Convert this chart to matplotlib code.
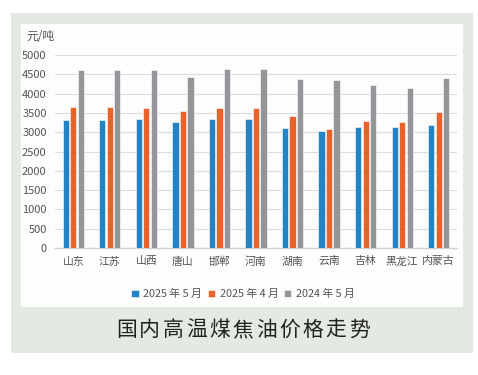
import matplotlib.pyplot as plt
import numpy as np
from matplotlib.patches import Rectangle

plt.rcParams['font.family'] = ['Noto Sans CJK SC', 'DejaVu Sans']

cities = ["山东", "江苏", "山西", "唐山", "邯郸", "河南", "湖南", "云南", "吉林", "黑龙江", "内蒙古"]
may_2025 = [3310, 3310, 3330, 3270, 3330, 3330, 3110, 3020, 3130, 3130, 3180]
apr_2025 = [3650, 3650, 3630, 3540, 3630, 3630, 3420, 3080, 3300, 3260, 3520]
may_2024 = [4600, 4600, 4600, 4430, 4630, 4630, 4370, 4340, 4220, 4140, 4400]
series_names = ["2025 年 5 月", "2025 年 4 月", "2024 年 5 月"]
colors = ["#2383c4", "#e8622a", "#939598"]
title = "国内高温煤焦油价格走势"

W, H = 478, 375
fig = plt.figure(figsize=(W / 100, H / 100), dpi=100)
fig.patch.set_facecolor("white")

# green frame and white chart area
fig.patches.append(Rectangle((11 / W, 1 - 353 / H), 462 / W, 340 / H,
                             transform=fig.transFigure, facecolor="#e3eae1", edgecolor="none", zorder=-2))
fig.patches.append(Rectangle((21 / W, 1 - 307 / H), 442 / W, 283 / H,
                             transform=fig.transFigure, facecolor="#fdfdfd", edgecolor="none", zorder=-1))

ax = fig.add_axes([55 / W, 1 - 248 / H, 402 / W, 193 / H])
ax.set_facecolor("none")

x = np.arange(len(cities))
width = 0.17
offset = 0.205
for i, (vals, name) in enumerate(zip([may_2025, apr_2025, may_2024], series_names)):
    ax.bar(x + (i - 1) * offset, vals, width, color=colors[i], label=name,
           edgecolor="white", linewidth=0.4, zorder=3)

ax.set_xlim(-0.5, len(cities) - 0.5)
ax.set_ylim(0, 5000)
ax.set_yticks(range(0, 5001, 500))
ax.set_xticks(x)
ax.set_xticklabels(cities, fontsize=7.8, color="#555555")
ax.tick_params(axis="y", labelsize=8, colors="#555555", length=0, pad=6)
ax.tick_params(axis="x", length=0, pad=6)
ax.grid(axis="y", color="#dcdcdc", linewidth=0.8, zorder=0)
for s in ["left", "right", "top"]:
    ax.spines[s].set_visible(False)
ax.spines["bottom"].set_color("#d0d0d0")
ax.spines["bottom"].set_linewidth(1.0)

fig.text(26 / W, 1 - 36 / H, "元/吨", fontsize=8.5, color="#555555", va="center", ha="left")

fig.legend(loc="center", bbox_to_anchor=(243 / W, 1 - 294 / H), ncol=3, frameon=False,
           fontsize=7.8, handlelength=0.7, handleheight=0.7, handletextpad=0.4,
           columnspacing=0.5, labelcolor="#555555")

# title with wide letter spacing
step = 23.3
start = 243 - step * (len(title) - 1) / 2
for k, ch in enumerate(title):
    fig.text((start + k * step) / W, 1 - 330 / H, ch, fontsize=15, color="#222222",
             ha="center", va="center")

fig.savefig("out.png", dpi=100)
